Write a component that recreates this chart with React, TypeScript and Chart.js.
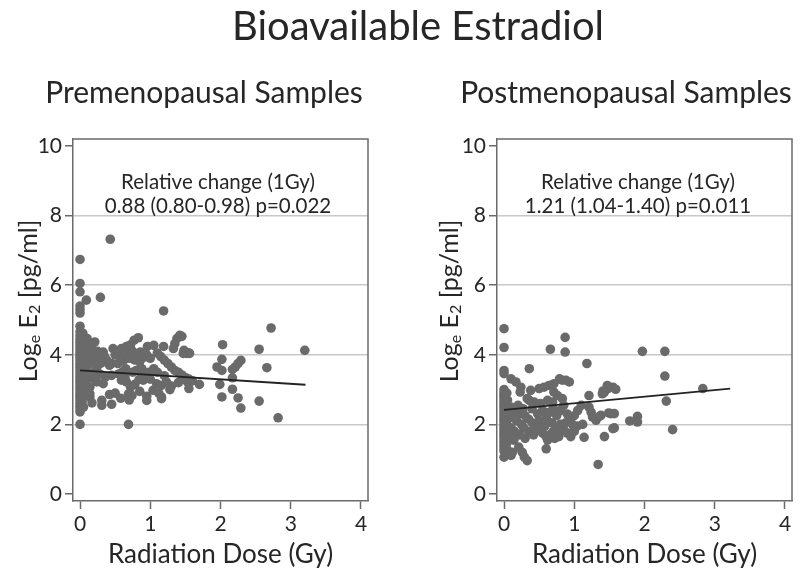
import React, { useEffect, useRef } from "react";
import { Chart, registerables } from "chart.js";

Chart.register(...registerables);

// ---------- data ----------
const xTickValues = [0, 1, 2, 3, 4];
const yTickValues = [0, 2, 4, 6, 8, 10];
const xMin = -0.1;
const xMax = 4.1;
const yMin = -0.2;
const yMax = 10.2;

const mainTitle = "Bioavailable Estradiol";
const panelTitles = ["Premenopausal Samples", "Postmenopausal Samples"];
const preNotes = ["Relative change (1Gy)", "0.88 (0.80-0.98) p=0.022"];
const postNotes = ["Relative change (1Gy)", "1.21 (1.04-1.40) p=0.011"];
const xTitle = "Radiation Dose (Gy)";
const yTitleRuns = [
  { t: "Log", sub: false },
  { t: "e", sub: true },
  { t: " E", sub: false },
  { t: "2", sub: true },
  { t: " [pg/ml]", sub: false },
];

// regression lines (dose, log E2)
const preFitX = [0, 3.21];
const preFitY = [3.55, 3.14];
const postFitX = [0, 3.22];
const postFitY = [2.42, 3.03];

// premenopausal samples [dose Gy, loge E2]
const prePoints: [number, number][] = [
  [0, 6.74], [0, 6.05], [0, 5.81], [0, 5.4], [0, 5.3], [0, 5.2], [0, 4.82], [0, 4.66], [0, 4.55],
  [0, 4.45], [0, 4.36], [0, 4.28], [0, 4.2], [0, 4.12], [0, 4.04], [0, 3.96], [0, 3.88], [0, 3.8],
  [0, 3.72], [0, 3.64], [0, 3.56], [0, 3.48], [0, 3.4], [0, 3.32], [0, 3.24], [0, 3.16], [0, 3.08],
  [0, 3.0], [0, 2.92], [0, 2.84], [0, 2.76], [0, 2.68], [0, 2.6], [0, 2.52], [0, 2.44], [0, 2.36], [0, 2.0],
  [0.04, 4.62], [0.03, 4.42], [0.05, 4.26], [0.04, 4.1], [0.06, 3.94], [0.03, 3.78], [0.05, 3.62],
  [0.04, 3.46], [0.06, 3.3], [0.03, 3.14], [0.05, 2.98], [0.04, 2.82], [0.03, 2.66], [0.05, 2.5],
  [0.09, 5.57], [0.29, 5.65], [0.43, 7.32], [1.19, 5.26], [0.69, 2.0],
  [0.1, 4.47], [0.21, 4.37], [0.15, 4.3], [0.08, 4.2], [0.18, 4.15], [0.12, 4.05], [0.25, 4.1],
  [0.33, 4.08], [0.3, 4.0], [0.22, 3.98], [0.1, 3.92], [0.16, 3.88], [0.28, 3.9], [0.19, 3.79],
  [0.24, 3.65], [0.12, 3.72], [0.08, 3.6], [0.35, 3.95], [0.38, 3.85], [0.45, 3.75], [0.42, 3.7], [0.3, 3.76],
  [0.45, 3.41], [0.36, 3.36], [0.24, 3.22], [0.33, 3.17], [0.14, 3.07], [0.14, 2.88], [0.31, 2.69],
  [0.31, 2.55], [0.45, 2.58], [0.42, 2.86], [0.09, 2.98], [0.14, 2.79], [0.1, 3.3], [0.2, 3.5],
  [0.28, 3.45], [0.17, 2.62], [0.1, 3.5], [0.15, 3.4], [0.2, 3.3],
  [0.47, 4.18], [0.59, 4.18], [0.66, 4.24], [0.72, 4.29], [0.77, 4.42], [0.83, 4.49], [0.96, 4.24],
  [1.05, 4.27], [1.19, 4.24], [1.42, 4.56], [1.38, 4.47], [1.35, 4.32], [1.33, 4.18], [1.48, 4.13],
  [1.54, 4.06], [1.45, 4.53],
  [0.54, 3.75], [0.62, 3.84], [0.57, 3.94], [0.5, 4.0], [0.68, 4.05], [0.75, 4.1], [0.8, 3.98],
  [0.86, 4.08], [0.7, 3.9], [0.78, 3.85], [0.85, 3.8], [0.9, 3.92], [0.95, 4.0], [1.0, 3.9],
  [1.1, 4.05], [1.15, 3.95], [1.2, 3.85], [1.25, 3.75], [1.3, 3.65], [1.35, 3.55], [1.4, 3.5],
  [1.45, 3.42], [1.5, 3.35], [1.55, 3.3], [1.6, 3.25], [1.47, 4.04], [1.52, 4.04], [1.56, 4.04],
  [0.64, 3.36], [0.59, 3.27], [0.66, 3.22], [0.84, 3.29], [0.9, 3.27], [1.09, 3.17], [1.16, 3.12],
  [1.23, 3.22], [1.04, 2.98], [0.72, 3.07], [0.69, 2.88], [0.74, 2.83], [0.95, 2.81], [1.16, 2.79],
  [0.8, 3.55], [0.88, 3.6], [0.92, 3.45], [0.98, 3.5], [1.05, 3.6], [1.1, 3.5], [1.2, 3.4],
  [0.75, 3.5], [0.65, 3.6], [0.6, 3.5], [0.55, 3.45], [1.3, 3.1], [1.4, 3.2], [1.47, 3.32],
  [1.53, 3.22], [1.0, 3.3], [0.7, 2.7], [0.78, 3.15], [1.28, 3.0], [1.12, 2.9], [0.85, 2.95],
  [0.95, 2.69], [1.16, 2.74], [0.5, 2.9], [0.58, 2.75],
  [1.7, 3.15], [1.55, 3.03], [2.72, 4.77], [2.03, 4.29], [2.55, 4.16], [3.2, 4.13], [2.02, 3.87],
  [2.29, 3.84], [2.25, 3.75], [2.21, 3.65], [2.17, 3.58], [1.95, 3.65], [2.02, 3.55], [2.66, 3.63],
  [2.17, 3.34], [1.99, 3.15], [2.17, 3.01], [2.02, 2.79], [2.25, 2.76], [2.55, 2.67], [2.29, 2.47],
  [2.82, 2.19],
];

// postmenopausal samples [dose Gy, loge E2]
const postPoints: [number, number][] = [
  [0, 4.75], [0, 4.21], [0, 3.55], [0, 3.46], [0, 3.0], [0, 2.92], [0, 2.84], [0, 2.76], [0, 2.68],
  [0, 2.6], [0, 2.52], [0, 2.44], [0, 2.36], [0, 2.28], [0, 2.2], [0, 2.12], [0, 2.04], [0, 1.96],
  [0, 1.88], [0, 1.8], [0, 1.72], [0, 1.64], [0, 1.56], [0, 1.48], [0, 1.4], [0, 1.32], [0, 1.24], [0, 1.06],
  [0.04, 2.9], [0.05, 2.7], [0.03, 2.5], [0.05, 2.3], [0.04, 2.1], [0.06, 1.9], [0.03, 1.7],
  [0.05, 1.5], [0.04, 1.3], [0.05, 1.16], [0.1, 1.11],
  [0.1, 3.31], [0.17, 3.22], [0.24, 3.07], [0.23, 2.93], [0.38, 2.98], [0.36, 3.6], [0.66, 4.16],
  [0.87, 4.5], [0.87, 4.08], [1.18, 3.75], [0.5, 3.03], [0.57, 3.07], [0.64, 3.12], [0.71, 3.17],
  [0.79, 3.31], [0.83, 3.27], [0.88, 3.27], [0.93, 3.22],
  [0.71, 2.93], [0.76, 2.83], [0.83, 2.74], [0.69, 2.64], [0.62, 2.69], [0.33, 2.74], [0.36, 2.69],
  [0.43, 2.64], [0.52, 2.6],
  [1.21, 2.83], [1.43, 2.93], [1.48, 3.03], [1.55, 3.07], [1.59, 3.01], [1.47, 3.12], [1.41, 2.96], [1.4, 2.88],
  [1.21, 2.5], [1.24, 2.35], [1.26, 2.21], [1.31, 2.12], [1.38, 2.26], [1.36, 2.23], [1.49, 2.33],
  [1.52, 2.31], [1.57, 2.31], [1.57, 1.9], [1.43, 1.65], [1.14, 1.63], [1.55, 1.88], [1.34, 0.85],
  [1.79, 2.1], [1.9, 2.23], [1.9, 2.07], [1.97, 4.1], [2.29, 4.1], [2.29, 3.39], [2.83, 3.03],
  [2.31, 2.67], [2.4, 1.85],
  [0.6, 1.3], [0.21, 1.35], [0.26, 1.2], [0.29, 1.06], [0.33, 0.96], [0.12, 1.2],
  [0.1, 2.5], [0.15, 2.4], [0.2, 2.3], [0.12, 2.2], [0.18, 2.1], [0.25, 2.0], [0.1, 1.9], [0.15, 1.8],
  [0.22, 1.7], [0.3, 1.6], [0.08, 1.65], [0.14, 1.55], [0.2, 2.55], [0.27, 2.45], [0.3, 2.25],
  [0.35, 2.15], [0.4, 2.05], [0.45, 1.95], [0.5, 1.85], [0.55, 1.75], [0.6, 1.65], [0.65, 1.7],
  [0.7, 1.8], [0.75, 1.9], [0.8, 2.0], [0.85, 1.85], [0.9, 1.75], [0.95, 1.65], [1.0, 1.8],
  [1.04, 1.95], [0.48, 2.3], [0.55, 2.4], [0.6, 2.2], [0.65, 2.35], [0.7, 2.45], [0.75, 2.25],
  [0.8, 2.4], [0.85, 2.55], [0.9, 2.3], [0.95, 2.15], [1.0, 2.25], [1.05, 2.4], [1.1, 2.55],
  [1.12, 2.0], [0.4, 2.45], [0.35, 1.8], [0.42, 1.7], [0.5, 2.1], [0.28, 1.9], [0.58, 1.95],
  [0.68, 2.05], [0.78, 1.65], [0.88, 2.05], [0.98, 1.98], [0.62, 1.55], [0.72, 1.6],
];

// ---------- styles ----------
const FONT = "Lato, 'Open Sans', sans-serif";
const TEXT = "#262626";
const AXIS = "#6a6a6a";
const GRID = "#c8c8c8";
const DOT = "#6a6a6a";

type PanelProps = {
  points: [number, number][];
  fitX: number[];
  fitY: number[];
  title: string;
  notes: string[];
  yAxisWidth: number;
  padRight: number;
  titleX: number;
  noteX: number;
  yTitleX: number;
};

function drawYTitle(ctx: CanvasRenderingContext2D, cx: number, cy: number, size: number) {
  ctx.save();
  ctx.translate(cx, cy);
  ctx.rotate(-Math.PI / 2);
  const big = `${size}px ${FONT}`;
  const small = `${Math.round(size * 0.62)}px ${FONT}`;
  let total = 0;
  for (const r of yTitleRuns) {
    ctx.font = r.sub ? small : big;
    total += ctx.measureText(r.t).width;
  }
  let x = -total / 2;
  const base = size * 0.36;
  ctx.textAlign = "left";
  ctx.textBaseline = "alphabetic";
  ctx.fillStyle = TEXT;
  for (const r of yTitleRuns) {
    ctx.font = r.sub ? small : big;
    ctx.fillText(r.t, x, base + (r.sub ? size * 0.1 : 0));
    x += ctx.measureText(r.t).width;
  }
  ctx.restore();
}

function Panel(p: PanelProps) {
  const ref = useRef<HTMLCanvasElement>(null);
  useEffect(() => {
    if (!ref.current) return;
    const decor = {
      id: "decor",
      afterDraw(chart: any) {
        const ctx: CanvasRenderingContext2D = chart.ctx;
        const a = chart.chartArea;
        ctx.save();
        ctx.strokeStyle = AXIS;
        ctx.lineWidth = 1.5;
        ctx.beginPath();
        ctx.moveTo(a.left, a.top);
        ctx.lineTo(a.right, a.top);
        ctx.lineTo(a.right, a.bottom);
        ctx.stroke();
        ctx.fillStyle = TEXT;
        ctx.textAlign = "center";
        ctx.textBaseline = "middle";
        ctx.font = `30px ${FONT}`;
        ctx.fillText(p.title, p.titleX, 93);
        ctx.font = `20.5px ${FONT}`;
        ctx.fillText(p.notes[0], p.noteX, 182);
        ctx.fillText(p.notes[1], p.noteX, 206);
        ctx.restore();
        drawYTitle(ctx, p.yTitleX, 301, 25);
      },
    };
    const chart = new Chart(ref.current, {
      type: "scatter",
      data: {
        datasets: [
          {
            type: "line",
            data: p.fitX.map((x, i) => ({ x, y: p.fitY[i] })),
            borderColor: "#222222",
            borderWidth: 1.8,
            pointRadius: 0,
            fill: false,
            order: 0,
          } as any,
          {
            data: p.points.map(([x, y]) => ({ x, y })),
            backgroundColor: DOT,
            borderWidth: 0,
            pointRadius: 4.8,
            order: 1,
          },
        ],
      },
      options: {
        responsive: false,
        maintainAspectRatio: false,
        animation: false,
        layout: { padding: { left: 0, right: p.padRight, top: 139, bottom: 11 } },
        plugins: { legend: { display: false }, tooltip: { enabled: false }, title: { display: false } },
        scales: {
          x: {
            type: "linear",
            min: xMin,
            max: xMax,
            afterBuildTicks: (s: any) => {
              s.ticks = xTickValues.map((value) => ({ value }));
            },
            afterFit: (s: any) => {
              s.height = 70;
            },
            grid: { drawOnChartArea: false, drawTicks: true, tickLength: 8, tickColor: AXIS, tickWidth: 1.5 },
            border: { display: true, color: AXIS, width: 1.5 },
            ticks: { color: TEXT, font: { family: FONT, size: 21 }, padding: 3, maxRotation: 0 },
            title: {
              display: true,
              text: xTitle,
              color: TEXT,
              font: { family: FONT, size: 26 },
              padding: { top: 0, bottom: 1 },
            },
          },
          y: {
            type: "linear",
            min: yMin,
            max: yMax,
            afterBuildTicks: (s: any) => {
              s.ticks = yTickValues.map((value) => ({ value }));
            },
            afterFit: (s: any) => {
              s.width = p.yAxisWidth;
            },
            grid: {
              color: (c: any) =>
                c.tick && (c.tick.value === yTickValues[0] || c.tick.value === yTickValues[yTickValues.length - 1])
                  ? "rgba(0,0,0,0)"
                  : GRID,
              lineWidth: 1.5,
              drawTicks: true,
              tickLength: 8,
              tickColor: AXIS,
              tickWidth: 1.5,
            },
            border: { display: true, color: AXIS, width: 1.5 },
            ticks: { color: TEXT, font: { family: FONT, size: 21 }, padding: 3 },
          },
        },
      },
      plugins: [decor],
    } as any);
    return () => chart.destroy();
  }, []);
  return <canvas ref={ref} width={400} height={582} style={{ width: 400, height: 582, display: "block" }} />;
}

export default function App() {
  return (
    <div style={{ position: "absolute", left: 0, top: 0, width: 800, height: 582, background: "#fff", overflow: "hidden" }}>
      <div style={{ position: "absolute", left: 0, top: 0 }}>
        <Panel
          points={prePoints}
          fitX={preFitX}
          fitY={preFitY}
          title={panelTitles[0]}
          notes={preNotes}
          yAxisWidth={73}
          padRight={32}
          titleX={204}
          noteX={218}
          yTitleX={28}
        />
      </div>
      <div style={{ position: "absolute", left: 400, top: 0 }}>
        <Panel
          points={postPoints}
          fitX={postFitX}
          fitY={postFitY}
          title={panelTitles[1]}
          notes={postNotes}
          yAxisWidth={97}
          padRight={8}
          titleX={226}
          noteX={238}
          yTitleX={49}
        />
      </div>
      <div
        style={{
          position: "absolute",
          left: 218,
          top: 0,
          width: 400,
          textAlign: "center",
          font: `40px ${FONT}`,
          lineHeight: "50px",
          color: TEXT,
        }}
      >
        {mainTitle}
      </div>
    </div>
  );
}
